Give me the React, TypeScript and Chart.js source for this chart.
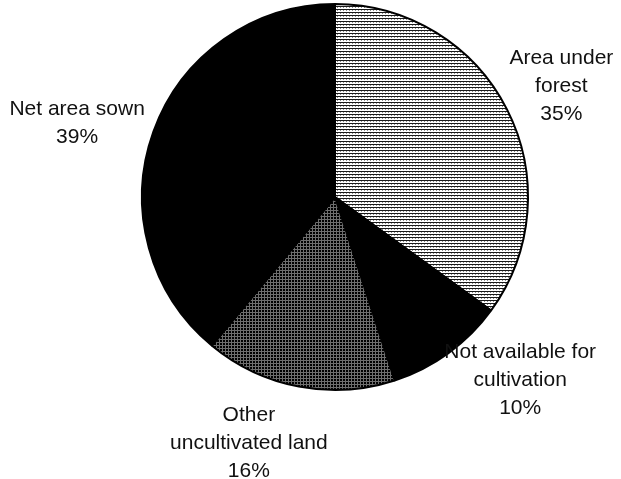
import React, { useEffect, useRef } from "react";
import { Chart, registerables } from "chart.js";

Chart.register(...registerables);

const categories = [
  "Area under forest",
  "Not available for cultivation",
  "Other uncultivated land",
  "Net area sown",
];
const labelLines = [
  ["Area under", "forest"],
  ["Not available for", "cultivation"],
  ["Other", "uncultivated land"],
  ["Net area sown"],
];
const shares = [35, 10, 16, 39];

function makePattern(kind: "hatch" | "grid"): CanvasPattern | string {
  const tile = document.createElement("canvas");
  tile.width = 3;
  tile.height = 3;
  const c = tile.getContext("2d");
  if (!c) return "#888";
  if (kind === "hatch") {
    c.fillStyle = "#ffffff";
    c.fillRect(0, 0, 3, 3);
    c.fillStyle = "#1a1a1a";
    c.fillRect(0, 0, 3, 1);
    c.fillStyle = "#8a8a8a";
    c.fillRect(1, 1, 1, 1);
  } else {
    c.fillStyle = "#000000";
    c.fillRect(0, 0, 3, 3);
    c.fillStyle = "#6e6e6e";
    c.fillRect(0, 0, 3, 1);
    c.fillRect(0, 0, 1, 3);
  }
  const p = c.createPattern(tile, "repeat");
  return p || "#888";
}

// label anchor layout: angle from 12 o'clock (deg, clockwise) and radius factor
const labelLayout = [
  { angle: 64, factor: 1.305 },
  { angle: 134.7, factor: 1.35 },
  { angle: 199.3, factor: 1.35 },
  { angle: 286, factor: 1.39 },
];

const labelPlugin = {
  id: "outsideLabels",
  afterDraw(chart: any) {
    const meta = chart.getDatasetMeta(0);
    const arc = meta.data[0];
    if (!arc) return;
    const cx = arc.x;
    const cy = arc.y;
    const r = arc.outerRadius;
    const ctx = chart.ctx;
    ctx.save();
    ctx.font = "21px 'Liberation Sans', Arial, sans-serif";
    ctx.fillStyle = "#111";
    ctx.textAlign = "center";
    ctx.textBaseline = "middle";
    const lh = 28;
    categories.forEach((_, i) => {
      const lines = [...labelLines[i], `${shares[i]}%`];
      const lay = labelLayout[i];
      const a = (lay.angle * Math.PI) / 180;
      const x = cx + Math.sin(a) * r * lay.factor;
      const y = cy - Math.cos(a) * r * lay.factor;
      const top = y - ((lines.length - 1) * lh) / 2;
      lines.forEach((t, j) => ctx.fillText(t, x, top + j * lh));
    });
    ctx.restore();
  },
};

export default function App() {
  const ref = useRef<HTMLCanvasElement | null>(null);
  useEffect(() => {
    if (!ref.current) return;
    const hatch = makePattern("hatch");
    const grid = makePattern("grid");
    const chart = new Chart(ref.current, {
      type: "pie",
      data: {
        labels: categories,
        datasets: [
          {
            data: shares,
            backgroundColor: [hatch, "#000000", grid, "#000000"] as any,
            borderColor: "#000000",
            borderWidth: 2,
            hoverOffset: 0,
          },
        ],
      },
      options: {
        responsive: false,
        animation: false,
        devicePixelRatio: 1,
        layout: { padding: { top: 3, bottom: 88, left: 141, right: 92 } },
        plugins: {
          legend: { display: false },
          tooltip: { enabled: false },
        },
        events: [],
      },
      plugins: [labelPlugin],
    });
    return () => chart.destroy();
  }, []);
  return (
    <div
      style={{
        position: "fixed",
        left: 0,
        top: 0,
        width: 621,
        height: 479,
        background: "#ffffff",
      }}
    >
      <canvas ref={ref} width={621} height={479} />
    </div>
  );
}
